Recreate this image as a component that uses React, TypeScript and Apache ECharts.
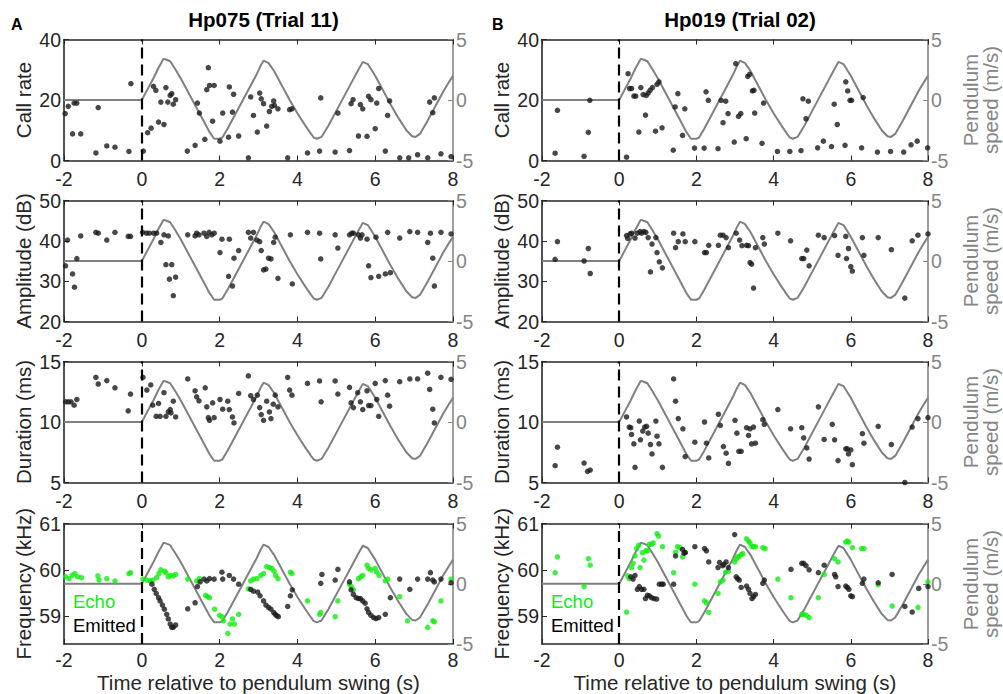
import React, { useEffect, useRef } from 'react';
import * as echarts from 'echarts';

const FONT = '"Liberation Sans", Arial, Helvetica, sans-serif';
const DARK = '#262626';
const GRAY = '#858585';
const GREEN = '#11ee11';

const panelLetters = ['A', 'B'];
const panelTitles = ['Hp075 (Trial 11)', 'Hp019 (Trial 02)'];
const rowNames = ['Call rate', 'Amplitude (dB)', 'Duration (ms)', 'Frequency (kHz)'];
const rightNameLines = ['Pendulum', 'speed (m/s)'];
const xTicks = [-2, 0, 2, 4, 6, 8];
const speedTicks = [-5, 0, 5];
const freqTicks = [59, 60, 61];
const legendLabels = ['Echo', 'Emitted'];

// Pendulum speed (m/s), same swing for both trials
const pendulumSpeed: number[][] = [
  [-2, 0], [0, 0], [0.15, 0.9], [0.3, 1.8], [0.42, 2.6], [0.56, 3.4], [0.62, 3.35], [0.73, 3.2],
  [0.85, 2.6], [1.0, 1.8], [1.2, 0.6], [1.4, -0.6], [1.6, -1.8], [1.75, -2.7], [1.86, -3.2],
  [2.0, -3.2], [2.07, -3.1], [2.2, -2.4], [2.4, -1.2], [2.6, 0.0], [2.8, 1.2], [2.95, 2.1],
  [3.05, 2.8], [3.13, 3.25], [3.26, 3.05], [3.4, 2.4], [3.6, 1.2], [3.8, 0.0], [4.0, -1.1],
  [4.2, -2.1], [4.35, -2.8], [4.42, -3.1], [4.5, -3.2], [4.62, -3.05], [4.8, -2.1], [5.0, -0.9],
  [5.2, 0.3], [5.4, 1.5], [5.55, 2.4], [5.68, 3.15], [5.81, 2.97], [6.0, 2.0], [6.2, 0.8],
  [6.4, -0.4], [6.6, -1.5], [6.8, -2.5], [6.95, -3.0], [7.04, -3.05], [7.15, -2.8], [7.35, -1.7],
  [7.55, -0.5], [7.75, 0.7], [7.9, 1.5], [8.0, 2.0],
];

const callRateA: number[][] = [
  [-1.97, 15.5], [-1.89, 17.9], [-1.74, 19.0], [-1.67, 19.0], [-1.78, 8.8], [-1.57, 8.8],
  [-1.18, 2.5], [-1.12, 17.5], [-0.9, 4.8], [-0.69, 4.4], [-0.33, 3.0], [-0.28, 25.4],
  [0.04, 3.1], [0.15, 9.2], [0.24, 10.7], [0.3, 24.5], [0.36, 23.2], [0.43, 12.7], [0.49, 19.3],
  [0.57, 11.9], [0.62, 24.1], [0.67, 19.3], [0.73, 21.5], [0.77, 22.1], [0.81, 18.6], [0.87, 20.1],
  [1.17, 3.1], [1.37, 5.0], [1.43, 19.0], [1.48, 15.7], [1.62, 7.0], [1.67, 23.4], [1.71, 30.7],
  [1.74, 24.8], [1.82, 13.0], [1.86, 24.8], [2.01, 6.4], [2.08, 15.7], [2.23, 7.7], [2.25, 24.3],
  [2.36, 21.9], [2.33, 16.0], [2.49, 8.1], [2.74, 0.9], [2.8, 21.0], [2.87, 14.9], [2.97, 9.4],
  [3.03, 22.3], [3.07, 20.4], [3.13, 18.8], [3.21, 11.4], [3.28, 16.2], [3.34, 17.9], [3.39, 19.7],
  [3.41, 18.2], [3.5, 17.1], [3.75, 0.9], [3.8, 16.8], [3.86, 17.1], [4.26, 2.5], [4.57, 3.1],
  [4.6, 20.7], [4.97, 2.8], [5.04, 15.7], [5.34, 3.3], [5.38, 18.8], [5.43, 20.1], [5.57, 8.1],
  [5.62, 18.5], [5.68, 17.1], [5.79, 8.0], [5.83, 21.2], [5.89, 20.1], [6.0, 10.5], [6.04, 19.0],
  [6.09, 23.8], [6.26, 3.1], [6.32, 14.9], [6.37, 19.7], [6.63, 0.9], [6.86, 0.9], [7.09, 1.9],
  [7.35, 0.9], [7.4, 19.3], [7.48, 15.8], [7.52, 20.7], [7.69, 2.2], [7.95, 1.3],
];

const callRateB: number[][] = [
  [-1.66, 2.4], [-1.6, 16.6], [-0.91, 1.4], [-0.8, 9.3], [-0.76, 19.9], [0.19, 1.1], [0.23, 28.7],
  [0.27, 23.8], [0.32, 23.8], [0.38, 21.3], [0.43, 21.3], [0.51, 9.4], [0.56, 24.1], [0.62, 21.8],
  [0.68, 15.0], [0.7, 21.5], [0.75, 22.3], [0.8, 23.2], [0.86, 24.1], [0.94, 9.7], [0.98, 25.2],
  [1.03, 26.0], [1.11, 10.8], [1.4, 3.4], [1.45, 17.7], [1.52, 22.1], [1.64, 8.3], [1.7, 17.1],
  [1.95, 4.1], [2.2, 4.1], [2.25, 22.7], [2.31, 19.9], [2.56, 3.9], [2.64, 19.9], [2.69, 12.5],
  [2.76, 19.6], [2.82, 15.5], [2.98, 6.1], [3.02, 32.0], [3.09, 14.6], [3.15, 15.5], [3.29, 7.2],
  [3.33, 27.8], [3.38, 28.5], [3.45, 23.0], [3.49, 23.2], [3.51, 15.7], [3.7, 5.7], [3.74, 19.0],
  [4.1, 3.0], [4.42, 3.0], [4.71, 3.3], [4.76, 20.4], [4.84, 13.8], [4.9, 19.6], [5.14, 4.2],
  [5.29, 6.4], [5.5, 4.6], [5.57, 18.6], [5.65, 11.9], [5.85, 5.0], [5.87, 26.0], [5.92, 23.0],
  [5.98, 19.9], [6.02, 19.9], [6.28, 4.2], [6.32, 20.8], [6.69, 2.8], [7.03, 3.0], [7.37, 2.8],
  [7.56, 5.2], [7.72, 6.4], [7.99, 4.2],
];

const amplitudeA: number[][] = [
  [-1.96, 33.8], [-1.91, 40.2], [-1.78, 31.8], [-1.73, 28.5], [-1.67, 35.6], [-1.57, 41.2],
  [-1.18, 42.1], [-1.12, 41.9], [-0.9, 40.2], [-0.69, 42.1], [-0.35, 41.1], [-0.29, 41.1],
  [0.02, 42.1], [0.12, 41.9], [0.19, 41.9], [0.3, 41.9], [0.38, 41.9], [0.49, 39.6], [0.57, 41.5],
  [0.62, 34.1], [0.68, 41.2], [0.71, 30.5], [0.77, 34.1], [0.87, 31.0], [0.81, 26.4], [1.18, 41.5],
  [1.37, 41.2], [1.41, 41.9], [1.47, 41.5], [1.6, 41.9], [1.67, 41.1], [1.73, 42.1], [1.8, 41.5],
  [1.86, 41.9], [2.01, 37.1], [2.06, 40.4], [2.23, 31.2], [2.25, 40.4], [2.33, 28.8], [2.37, 35.7],
  [2.49, 37.6], [2.74, 42.1], [2.8, 40.7], [2.87, 42.1], [2.96, 40.2], [3.03, 39.8], [3.07, 37.6],
  [3.13, 32.8], [3.19, 33.0], [3.26, 35.7], [3.32, 35.5], [3.39, 39.6], [3.43, 40.9], [3.5, 30.7],
  [3.82, 41.5], [3.87, 29.3], [4.26, 42.1], [4.57, 41.9], [4.6, 35.5], [4.97, 41.5], [5.04, 38.2],
  [5.34, 41.5], [5.4, 41.9], [5.44, 41.9], [5.57, 41.5], [5.62, 40.7], [5.66, 41.5], [5.79, 40.4],
  [5.83, 33.8], [5.89, 30.9], [6.02, 40.9], [6.09, 31.2], [6.26, 31.8], [6.32, 42.1], [6.39, 32.1],
  [6.63, 40.7], [6.89, 42.3], [7.09, 42.1], [7.35, 39.6], [7.42, 41.9], [7.48, 35.7], [7.52, 28.8],
  [7.69, 42.1], [7.95, 41.7],
];

const amplitudeB: number[][] = [
  [-1.66, 35.4], [-1.6, 39.8], [-0.91, 35.0], [-0.8, 38.1], [-0.75, 31.9], [0.19, 41.3],
  [0.22, 40.6], [0.28, 41.7], [0.32, 41.9], [0.41, 40.7], [0.47, 41.9], [0.54, 42.3], [0.58, 41.9],
  [0.64, 42.3], [0.69, 42.1], [0.75, 40.8], [0.81, 32.3], [0.85, 39.2], [0.95, 40.8], [0.98, 37.1],
  [1.04, 34.8], [1.12, 33.3], [1.41, 41.9], [1.46, 38.3], [1.53, 39.8], [1.65, 41.7], [1.71, 39.8],
  [1.96, 39.8], [2.21, 37.1], [2.26, 37.1], [2.32, 38.9], [2.57, 38.9], [2.62, 41.4], [2.69, 41.4],
  [2.77, 40.8], [2.83, 38.3], [3.03, 41.9], [3.12, 40.2], [3.18, 38.8], [3.3, 38.9], [3.35, 38.8],
  [3.39, 34.6], [3.43, 34.2], [3.48, 28.3], [3.53, 38.3], [3.72, 40.8], [3.76, 39.2], [4.11, 41.9],
  [4.44, 40.0], [4.73, 35.6], [4.78, 35.6], [4.86, 37.7], [4.92, 33.8], [5.16, 41.4], [5.31, 40.8],
  [5.58, 41.3], [5.67, 36.4], [5.87, 41.1], [5.89, 35.6], [5.94, 38.1], [6.0, 33.6], [6.04, 32.5],
  [6.3, 40.8], [6.34, 36.4], [6.71, 40.8], [7.05, 37.8], [7.4, 25.8], [7.59, 40.0], [7.74, 41.4],
  [8.0, 41.7],
];

const durationA: number[][] = [
  [-1.96, 11.67], [-1.89, 11.67], [-1.82, 11.67], [-1.74, 11.39], [-1.67, 11.86], [-1.18, 13.69],
  [-1.12, 13.14], [-0.9, 13.42], [-0.69, 12.83], [-0.35, 10.92], [-0.29, 12.31], [0.03, 13.69],
  [0.13, 12.64], [0.23, 13.06], [0.28, 11.39], [0.37, 10.47], [0.43, 11.53], [0.47, 10.47],
  [0.57, 12.42], [0.62, 10.47], [0.68, 10.83], [0.73, 11.03], [0.75, 10.75], [0.81, 11.72],
  [0.87, 10.42], [1.18, 13.56], [1.37, 12.58], [1.41, 12.08], [1.47, 11.75], [1.63, 12.83],
  [1.67, 11.25], [1.71, 10.36], [1.74, 10.14], [1.86, 10.36], [1.82, 11.58], [2.01, 11.86],
  [2.08, 11.06], [2.21, 11.72], [2.25, 11.03], [2.33, 10.42], [2.37, 9.92], [2.49, 12.36],
  [2.74, 13.81], [2.8, 12.17], [2.87, 11.86], [2.97, 12.22], [3.03, 11.19], [3.07, 10.61],
  [3.13, 10.14], [3.21, 11.72], [3.28, 10.83], [3.32, 10.28], [3.38, 11.47], [3.43, 12.22],
  [3.5, 11.25], [3.75, 13.69], [3.8, 12.64], [3.86, 12.22], [4.26, 13.19], [4.57, 13.39],
  [4.61, 11.67], [4.97, 13.39], [5.04, 12.31], [5.34, 12.86], [5.38, 11.58], [5.44, 11.19],
  [5.55, 12.42], [5.62, 11.67], [5.68, 11.03], [5.79, 12.58], [5.83, 11.36], [5.89, 11.36],
  [6.0, 13.19], [6.04, 11.86], [6.09, 10.47], [6.26, 13.42], [6.32, 12.22], [6.37, 11.31],
  [6.63, 13.33], [6.89, 13.56], [7.09, 13.56], [7.35, 14.03], [7.4, 12.69], [7.48, 11.06],
  [7.52, 9.92], [7.69, 13.69], [7.95, 13.53],
];

const durationB: number[][] = [
  [-1.66, 6.39], [-1.6, 7.92], [-0.91, 6.61], [-0.82, 5.92], [-0.75, 6.03], [0.19, 10.42],
  [0.26, 9.58], [0.3, 9.53], [0.32, 8.97], [0.38, 8.19], [0.41, 6.25], [0.52, 10.08], [0.55, 8.53],
  [0.61, 9.25], [0.66, 9.58], [0.71, 9.64], [0.75, 9.08], [0.81, 8.14], [0.85, 7.36], [0.95, 10.08],
  [0.98, 8.83], [1.03, 8.19], [1.12, 6.25], [1.41, 13.56], [1.46, 11.72], [1.53, 10.28], [1.65, 9.44],
  [1.71, 7.14], [1.96, 8.33], [2.21, 10.0], [2.26, 8.25], [2.32, 7.03], [2.57, 10.64], [2.62, 9.72],
  [2.7, 7.97], [2.77, 7.42], [2.83, 6.58], [3.0, 10.14], [3.05, 9.08], [3.1, 7.58], [3.16, 7.58],
  [3.3, 9.53], [3.35, 8.89], [3.39, 9.44], [3.43, 8.19], [3.48, 9.58], [3.53, 8.25], [3.72, 10.19],
  [3.76, 9.81], [4.11, 11.03], [4.44, 9.44], [4.73, 9.53], [4.78, 8.69], [4.86, 7.86], [4.92, 6.94],
  [5.16, 11.25], [5.31, 8.56], [5.52, 9.81], [5.58, 8.53], [5.67, 6.81], [5.87, 7.78], [5.91, 7.78],
  [5.94, 7.36], [6.0, 7.69], [6.04, 6.47], [6.3, 9.03], [6.34, 8.25], [6.71, 9.64], [7.05, 8.14],
  [7.4, 5.0], [7.59, 9.58], [7.74, 10.28], [8.0, 10.36],
];

const echoFreqA: number[][] = [
  [-1.96, 59.85], [-1.87, 59.81], [-1.79, 59.88], [-1.72, 59.92], [-1.65, 59.85], [-1.55, 59.83],
  [-1.13, 59.87], [-1.1, 59.78], [-0.9, 59.81], [-0.69, 59.76], [-0.33, 59.92], [-0.29, 59.94],
  [0.03, 59.8], [0.13, 59.78], [0.21, 59.76], [0.28, 59.78], [0.38, 59.83], [0.44, 59.92],
  [0.49, 60.0], [0.58, 59.97], [0.62, 59.94], [0.68, 59.85], [0.74, 59.88], [0.81, 59.87],
  [0.87, 59.9], [1.18, 59.8], [1.41, 59.76], [1.48, 59.81], [1.64, 59.45], [1.69, 59.42],
  [1.74, 59.4], [1.87, 59.15], [2.0, 59.02], [2.06, 58.99], [2.1, 58.9], [2.21, 58.63],
  [2.27, 58.83], [2.33, 58.94], [2.38, 58.83], [2.49, 59.04], [2.74, 59.59], [2.8, 59.76],
  [2.87, 59.8], [2.96, 59.81], [3.06, 59.88], [3.13, 59.92], [3.21, 60.07], [3.28, 60.05],
  [3.34, 60.03], [3.4, 59.97], [3.44, 59.88], [3.5, 59.81], [3.82, 59.95], [3.86, 59.92],
  [4.26, 59.33], [4.57, 59.04], [4.6, 59.08], [4.97, 58.99], [5.04, 59.33], [5.34, 59.69],
  [5.38, 59.64], [5.44, 59.57], [5.57, 59.81], [5.63, 59.85], [5.68, 59.88], [5.79, 60.1],
  [5.83, 60.03], [5.89, 60.0], [6.0, 60.03], [6.04, 59.95], [6.1, 59.88], [6.26, 59.76],
  [6.32, 59.8], [6.63, 59.42], [6.83, 58.9], [7.35, 58.76], [7.48, 58.9], [7.52, 58.88],
  [7.69, 59.33], [7.95, 59.8],
];

const emittedFreqA: number[][] = [
  [0.26, 59.69], [0.32, 59.58], [0.37, 59.49], [0.43, 59.4], [0.47, 59.33], [0.53, 59.24],
  [0.58, 59.15], [0.64, 59.04], [0.68, 58.94], [0.73, 58.83], [0.77, 58.76], [0.81, 58.76],
  [0.87, 58.81], [1.18, 59.16], [1.37, 59.29], [1.43, 59.64], [1.5, 59.74], [1.6, 59.8],
  [1.67, 59.76], [1.74, 59.81], [1.86, 59.8], [2.06, 59.95], [2.08, 59.8], [2.25, 59.88],
  [2.36, 59.8], [2.49, 59.69], [2.8, 59.58], [2.87, 59.54], [2.98, 59.52], [3.04, 59.44],
  [3.13, 59.33], [3.19, 59.24], [3.26, 59.19], [3.32, 59.15], [3.39, 59.08], [3.43, 59.04],
  [3.47, 59.01], [3.51, 58.99], [3.75, 59.21], [3.82, 59.44], [3.87, 59.57], [4.6, 59.71],
  [4.63, 59.9], [4.97, 59.78], [5.04, 60.01], [5.34, 59.74], [5.38, 59.57], [5.44, 59.47],
  [5.51, 59.4], [5.57, 59.38], [5.62, 59.38], [5.68, 59.33], [5.74, 59.28], [5.79, 59.16],
  [5.83, 59.08], [5.89, 59.02], [5.96, 58.97], [6.02, 58.95], [6.09, 58.97], [6.26, 59.04],
  [6.39, 59.4], [6.63, 59.8], [6.89, 59.58], [7.09, 59.8], [7.35, 59.8], [7.42, 59.94],
  [7.48, 59.78], [7.52, 59.74], [7.69, 59.8], [7.95, 59.72],
];

const echoFreqB: number[][] = [
  [-1.66, 59.94], [-1.6, 60.28], [-0.91, 59.64], [-0.8, 60.24], [-0.75, 60.1], [0.19, 59.09],
  [0.22, 59.87], [0.26, 59.81], [0.32, 60.05], [0.36, 60.14], [0.41, 60.3], [0.45, 60.46],
  [0.5, 60.53], [0.54, 60.05], [0.6, 60.37], [0.64, 60.21], [0.69, 60.41], [0.73, 60.41],
  [0.78, 60.55], [0.84, 60.55], [0.88, 60.58], [0.98, 60.78], [1.02, 60.73], [1.12, 60.5],
  [1.41, 59.94], [1.46, 60.38], [1.51, 60.5], [1.57, 60.48], [1.64, 60.28], [1.71, 60.38],
  [1.96, 59.69], [2.21, 59.33], [2.26, 59.29], [2.32, 59.08], [2.56, 59.49], [2.62, 59.74],
  [2.69, 59.78], [2.76, 59.95], [2.83, 59.97], [2.99, 60.17], [3.03, 60.23], [3.07, 60.28],
  [3.11, 60.29], [3.16, 60.33], [3.2, 60.35], [3.3, 60.67], [3.35, 60.62], [3.39, 60.58],
  [3.44, 60.5], [3.48, 60.5], [3.53, 60.5], [3.72, 60.48], [3.78, 60.46], [4.11, 59.8],
  [4.45, 59.4], [4.73, 59.04], [4.78, 59.04], [4.85, 59.02], [4.92, 58.97], [5.16, 59.4],
  [5.31, 59.9], [5.58, 60.24], [5.67, 60.17], [5.87, 60.6], [5.91, 60.62], [5.95, 60.6],
  [6.04, 60.48], [6.28, 60.46], [6.34, 60.46], [6.71, 59.68], [7.07, 59.22], [7.74, 59.19],
  [8.0, 59.74],
];

const emittedFreqB: number[][] = [
  [0.3, 59.85], [0.36, 59.8], [0.41, 59.88], [0.47, 59.58], [0.52, 59.64], [0.58, 59.58],
  [0.64, 59.58], [0.68, 59.38], [0.73, 59.45], [0.78, 59.44], [0.84, 59.4], [0.9, 59.38],
  [0.97, 59.37], [1.04, 59.69], [1.1, 59.69], [1.14, 59.69], [1.41, 59.69], [1.46, 60.3],
  [1.64, 60.44], [1.68, 60.36], [1.71, 60.37], [1.96, 60.5], [2.21, 60.46], [2.26, 60.41],
  [2.32, 60.17], [2.56, 60.05], [2.6, 60.16], [2.68, 60.09], [2.71, 60.12], [2.77, 60.17],
  [2.83, 60.05], [2.99, 60.76], [3.03, 59.85], [3.07, 59.81], [3.11, 59.78], [3.16, 59.62],
  [3.3, 59.65], [3.35, 59.58], [3.39, 59.49], [3.44, 59.38], [3.48, 59.42], [3.53, 59.47],
  [3.72, 59.71], [3.76, 59.78], [4.45, 60.01], [4.73, 60.14], [4.78, 60.14], [4.84, 60.09],
  [4.92, 60.0], [5.16, 59.94], [5.31, 60.1], [5.58, 59.9], [5.61, 59.85], [5.67, 59.64],
  [5.87, 59.65], [5.91, 59.62], [5.95, 59.58], [6.0, 59.44], [6.04, 59.42], [6.3, 59.71],
  [6.34, 59.8], [6.71, 59.72], [7.07, 59.9], [7.4, 59.21], [7.59, 59.09], [7.76, 59.6],
  [8.0, 59.64],
];

const App: React.FC = () => {
  const ref = useRef<HTMLDivElement>(null);

  useEffect(() => {
    if (!ref.current) return;
    const chart = echarts.init(ref.current, undefined, { renderer: 'svg' });

    const cols = [
      { left: 64, width: 389 },
      { left: 542, width: 386 },
    ];
    const rows = [
      { top: 39.5, min: 0, max: 40, interval: 20 as number | undefined },
      { top: 200.5, min: 20, max: 50, interval: 10 as number | undefined },
      { top: 361.5, min: 5, max: 15, interval: 5 as number | undefined },
      { top: 523.5, min: 58.4, max: 61, interval: undefined as number | undefined },
    ];
    const H = 121;
    const blackData = [
      [callRateA, amplitudeA, durationA, emittedFreqA],
      [callRateB, amplitudeB, durationB, emittedFreqB],
    ];
    const echoData = [echoFreqA, echoFreqB];

    const grid: any[] = [];
    const xAxis: any[] = [];
    const yAxis: any[] = [];
    const series: any[] = [];
    const title: any[] = [];
    const graphic: any[] = [];

    const tickLabel = { fontFamily: FONT, fontSize: 19.5, color: DARK };

    cols.forEach((c, ci) => {
      title.push({
        text: panelTitles[ci],
        left: c.left + c.width / 2,
        top: 4,
        textAlign: 'center',
        textStyle: { fontFamily: FONT, fontSize: 20.5, fontWeight: 'bold', color: '#000' },
      });
      graphic.push({
        type: 'text',
        left: ci === 0 ? 11 : 492,
        top: 16,
        style: { text: panelLetters[ci], font: `bold 16px ${FONT}`, fill: '#000' },
      });
      rows.forEach((r, ri) => {
        const p = ci * 4 + ri;
        grid.push({ left: c.left, top: r.top, width: c.width, height: H, containLabel: false });
        const isLast = ri === 3;
        xAxis.push({
          type: 'value',
          gridIndex: p,
          position: 'bottom',
          min: -2,
          max: 8,
          interval: 2,
          axisLine: { show: true, onZero: false, lineStyle: { color: DARK, width: 1.6 } },
          axisTick: { show: true, inside: true, length: 5, lineStyle: { color: DARK, width: 1 } },
          axisLabel: {
            ...tickLabel,
            margin: isLast ? 6 : 8,
            formatter: (v: number) => (xTicks.includes(v) ? String(v) : ''),
          },
          splitLine: { show: false },
          name: isLast ? 'Time relative to pendulum swing (s)' : '',
          nameLocation: 'middle',
          nameGap: 28,
          nameTextStyle: { fontFamily: FONT, fontSize: 20.5, color: DARK },
        });
        xAxis.push({
          type: 'value',
          gridIndex: p,
          position: 'top',
          min: -2,
          max: 8,
          interval: 2,
          axisLine: { show: true, onZero: false, lineStyle: { color: DARK, width: 1.6 } },
          axisTick: { show: true, inside: true, length: 5, lineStyle: { color: DARK, width: 1 } },
          axisLabel: { show: false },
          splitLine: { show: false },
        });
        const left: any = {
          type: 'value',
          gridIndex: p,
          position: 'left',
          min: r.min,
          max: r.max,
          axisLine: { show: true, onZero: false, lineStyle: { color: DARK, width: 1.6 } },
          axisTick: { show: true, inside: true, length: 5, lineStyle: { color: DARK, width: 1 } },
          axisLabel: { ...tickLabel, margin: 3 },
          splitLine: { show: false },
          name: rowNames[ri],
          nameLocation: 'middle',
          nameRotate: 90,
          nameGap: 30,
          nameTextStyle: { fontFamily: FONT, fontSize: 20.5, color: DARK },
        };
        if (r.interval !== undefined) {
          left.interval = r.interval;
        } else {
          left.axisTick.customValues = freqTicks;
          left.axisLabel.customValues = freqTicks;
        }
        yAxis.push(left);
        yAxis.push({
          type: 'value',
          gridIndex: p,
          position: 'right',
          min: -5,
          max: 5,
          interval: 5,
          axisLine: { show: true, onZero: false, lineStyle: { color: GRAY, width: 1.6 } },
          axisTick: { show: true, inside: true, length: 5, lineStyle: { color: GRAY, width: 1 } },
          axisLabel: {
            fontFamily: FONT, fontSize: 19.5, color: GRAY, margin: 3,
            formatter: (v: number) => (speedTicks.includes(v) ? String(v) : ''),
          },
          splitLine: { show: false },
        });

        if (ci === 1) {
          const cy = r.top + H / 2;
          graphic.push({
            type: 'text',
            x: 970,
            y: cy,
            rotation: Math.PI / 2,
            style: {
              text: rightNameLines[0], font: `20.5px ${FONT}`, fill: GRAY,
              align: 'center', verticalAlign: 'middle',
            },
          });
          graphic.push({
            type: 'text',
            x: 990.5,
            y: cy,
            rotation: Math.PI / 2,
            style: {
              text: rightNameLines[1], font: `20.5px ${FONT}`, fill: GRAY,
              align: 'center', verticalAlign: 'middle',
            },
          });
        }

        series.push({
          type: 'line',
          xAxisIndex: 2 * p,
          yAxisIndex: 2 * p + 1,
          data: pendulumSpeed,
          showSymbol: false,
          symbol: 'none',
          lineStyle: { color: '#808080', width: 2 },
          z: 2,
          silent: true,
        });
        series.push({
          type: 'scatter',
          xAxisIndex: 2 * p,
          yAxisIndex: 2 * p,
          data: blackData[ci][ri],
          symbolSize: 5.5,
          itemStyle: { color: '#1a1a1a' },
          z: 4,
          markLine: {
            silent: true,
            symbol: ['none', 'none'],
            label: { show: false },
            lineStyle: { color: '#000', width: 2.2, type: [11, 6] },
            data: [{ xAxis: 0 }],
          },
        });
        if (isLast) {
          series.push({
            type: 'scatter',
            xAxisIndex: 2 * p,
            yAxisIndex: 2 * p,
            data: echoData[ci],
            symbolSize: 5.5,
            itemStyle: { color: GREEN },
            z: 3,
          });
          graphic.push({
            type: 'text',
            left: c.left + 9,
            top: 592,
            style: { text: legendLabels[0], font: `18.5px ${FONT}`, fill: GREEN },
          });
          graphic.push({
            type: 'text',
            left: c.left + 9,
            top: 616,
            style: { text: legendLabels[1], font: `18.5px ${FONT}`, fill: '#000' },
          });
        }
      });
    });

    chart.setOption({
      animation: false,
      backgroundColor: '#fff',
      title,
      grid,
      xAxis,
      yAxis,
      series,
      graphic,
    });

    return () => chart.dispose();
  }, []);

  return (
    <div
      ref={ref}
      style={{ position: 'absolute', left: 0, top: 0, width: 1003, height: 694 }}
    />
  );
};

export default App;
